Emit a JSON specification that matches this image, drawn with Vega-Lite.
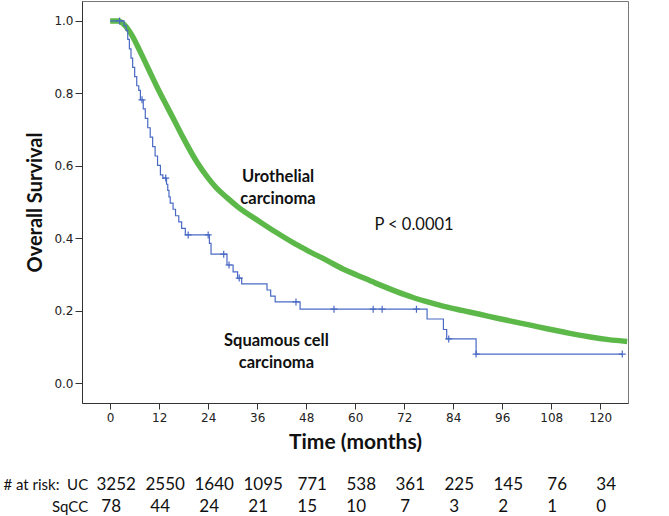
{
  "$schema": "https://vega.github.io/schema/vega-lite/v6.json",
  "width": 546,
  "height": 402,
  "autosize": {"type": "none"},
  "padding": {"left": 82, "top": 1, "right": 41, "bottom": 113},
  "background": "white",
  "config": {
    "view": {"stroke": "#777", "strokeWidth": 1},
    "font": "Lato",
    "axis": {"grid": false}
  },
  "datasets": {
    "uc": [
      {"month": 0, "survival": 1.0}, {"month": 2, "survival": 1.0}, {"month": 3.4, "survival": 0.99},
      {"month": 4.5, "survival": 0.975}, {"month": 5.6, "survival": 0.955}, {"month": 6.8, "survival": 0.928},
      {"month": 8, "survival": 0.9}, {"month": 9.8, "survival": 0.857}, {"month": 11.5, "survival": 0.817},
      {"month": 14, "survival": 0.762}, {"month": 16.4, "survival": 0.71}, {"month": 17.9, "survival": 0.677},
      {"month": 21.3, "survival": 0.609}, {"month": 24, "survival": 0.566}, {"month": 26, "survival": 0.539},
      {"month": 28.6, "survival": 0.512}, {"month": 31.1, "survival": 0.488}, {"month": 36.7, "survival": 0.445},
      {"month": 40.8, "survival": 0.415}, {"month": 44.9, "survival": 0.387}, {"month": 48, "survival": 0.368},
      {"month": 53.5, "survival": 0.336}, {"month": 57, "survival": 0.315}, {"month": 60.5, "survival": 0.298},
      {"month": 65, "survival": 0.276}, {"month": 70.3, "survival": 0.252}, {"month": 74, "survival": 0.237},
      {"month": 78.4, "survival": 0.222}, {"month": 82, "survival": 0.211}, {"month": 86.4, "survival": 0.2},
      {"month": 90.5, "survival": 0.19}, {"month": 94.8, "survival": 0.179}, {"month": 99, "survival": 0.169},
      {"month": 102.9, "survival": 0.16}, {"month": 107, "survival": 0.15}, {"month": 111, "survival": 0.141},
      {"month": 114.5, "survival": 0.133}, {"month": 117.6, "survival": 0.127}, {"month": 122, "survival": 0.12},
      {"month": 126.6, "survival": 0.115}
    ],
    "sqcc": [
      {"month": 0, "survival": 1.0}, {"month": 3.4, "survival": 0.987}, {"month": 3.9, "survival": 0.974},
      {"month": 4.3, "survival": 0.949}, {"month": 4.7, "survival": 0.923}, {"month": 5.1, "survival": 0.897},
      {"month": 5.5, "survival": 0.872}, {"month": 6.0, "survival": 0.846}, {"month": 6.5, "survival": 0.821},
      {"month": 7.0, "survival": 0.808}, {"month": 7.4, "survival": 0.782}, {"month": 8.1, "survival": 0.757},
      {"month": 8.6, "survival": 0.731}, {"month": 9.2, "survival": 0.705}, {"month": 9.8, "survival": 0.679},
      {"month": 10.4, "survival": 0.653}, {"month": 11.0, "survival": 0.627}, {"month": 11.6, "survival": 0.601},
      {"month": 12.3, "survival": 0.575}, {"month": 12.9, "survival": 0.566}, {"month": 13.8, "survival": 0.549},
      {"month": 14.1, "survival": 0.532}, {"month": 14.4, "survival": 0.514}, {"month": 14.7, "survival": 0.497},
      {"month": 15.4, "survival": 0.48}, {"month": 16.0, "survival": 0.462}, {"month": 16.8, "survival": 0.445},
      {"month": 17.5, "survival": 0.427}, {"month": 18.4, "survival": 0.409}, {"month": 24.3, "survival": 0.386},
      {"month": 24.7, "survival": 0.356}, {"month": 28.6, "survival": 0.326}, {"month": 30.1, "survival": 0.307},
      {"month": 31.2, "survival": 0.29}, {"month": 32.2, "survival": 0.274}, {"month": 38.4, "survival": 0.257},
      {"month": 39.3, "survival": 0.24}, {"month": 40.4, "survival": 0.224}, {"month": 46.5, "survival": 0.204},
      {"month": 77.6, "survival": 0.177}, {"month": 81.6, "survival": 0.148}, {"month": 82.4, "survival": 0.122},
      {"month": 89.6, "survival": 0.08}, {"month": 125.4, "survival": 0.08}
    ],
    "sqccCensored": [
      {"month": 2.3, "survival": 1.0}, {"month": 7.8, "survival": 0.782}, {"month": 13.6, "survival": 0.566},
      {"month": 19.1, "survival": 0.409}, {"month": 24.0, "survival": 0.409}, {"month": 27.8, "survival": 0.356},
      {"month": 29.1, "survival": 0.326}, {"month": 31.6, "survival": 0.29}, {"month": 45.5, "survival": 0.224},
      {"month": 54.8, "survival": 0.204}, {"month": 64.4, "survival": 0.204}, {"month": 66.6, "survival": 0.204},
      {"month": 75.0, "survival": 0.204}, {"month": 82.9, "survival": 0.122}, {"month": 89.6, "survival": 0.08},
      {"month": 125.4, "survival": 0.08}
    ],
    "risk": [
      {"month": 0, "group": "UC", "n": 3252}, {"month": 12, "group": "UC", "n": 2550}, {"month": 24, "group": "UC", "n": 1640},
      {"month": 36, "group": "UC", "n": 1095}, {"month": 48, "group": "UC", "n": 771}, {"month": 60, "group": "UC", "n": 538},
      {"month": 72, "group": "UC", "n": 361}, {"month": 84, "group": "UC", "n": 225}, {"month": 96, "group": "UC", "n": 145},
      {"month": 108, "group": "UC", "n": 76}, {"month": 120, "group": "UC", "n": 34},
      {"month": 0, "group": "SqCC", "n": 78}, {"month": 12, "group": "SqCC", "n": 44}, {"month": 24, "group": "SqCC", "n": 24},
      {"month": 36, "group": "SqCC", "n": 21}, {"month": 48, "group": "SqCC", "n": 15}, {"month": 60, "group": "SqCC", "n": 10},
      {"month": 72, "group": "SqCC", "n": 7}, {"month": 84, "group": "SqCC", "n": 3}, {"month": 96, "group": "SqCC", "n": 2},
      {"month": 108, "group": "SqCC", "n": 1}, {"month": 120, "group": "SqCC", "n": 0}
    ],
    "riskHeaders": [
      {"group": "UC", "header": "# at risk:\u00a0 UC"},
      {"group": "SqCC", "header": "SqCC"}
    ],
    "labels": [
      {"month": 41.1, "survival": 0.569, "label": "Urothelial\ncarcinoma"},
      {"month": 40.7, "survival": 0.117, "label": "Squamous cell\ncarcinoma"}
    ],
    "pvalue": [
      {"month": 74.4, "survival": 0.436, "label": "P < 0.0001"}
    ]
  },
  "layer": [
    {
      "layer": [
        {
          "data": {"name": "uc"},
          "mark": {"type": "line", "color": "#5cb848", "strokeWidth": 5.5, "interpolate": "monotone", "clip": true},
          "encoding": {
            "x": {
              "field": "month", "type": "quantitative", "title": "Time (months)",
              "scale": {"domain": [-6.9, 126.8], "nice": false, "zero": false},
              "axis": {
                "values": [0, 12, 24, 36, 48, 60, 72, 84, 96, 108, 120],
                "tickSize": 6, "tickColor": "#333", "domainColor": "#333",
                "labelFont": "DejaVu Sans", "labelFontSize": 12, "labelColor": "#222", "labelPadding": 3,
                "labelFlush": false,
                "titleFont": "Lato", "titleFontSize": 21, "titleFontWeight": "bold", "titleColor": "#111", "titlePadding": 8
              }
            },
            "y": {
              "field": "survival", "type": "quantitative", "title": "Overall Survival",
              "scale": {"domain": [-0.055, 1.055], "nice": false, "zero": false},
              "axis": {
                "values": [0, 0.2, 0.4, 0.6, 0.8, 1.0], "format": ".1f",
                "tickSize": 7, "tickColor": "#333", "domainColor": "#333",
                "labelFont": "DejaVu Sans", "labelFontSize": 12, "labelColor": "#222", "labelPadding": 2,
                "titleFont": "Lato", "titleFontSize": 20, "titleFontWeight": "bold", "titleColor": "#111", "titlePadding": 8
              }
            }
          }
        },
        {
          "data": {"name": "sqcc"},
          "mark": {"type": "line", "color": "#4a6ac4", "strokeWidth": 1.2, "interpolate": "step-after"},
          "encoding": {
            "x": {"field": "month", "type": "quantitative", "title": "Time (months)"},
            "y": {"field": "survival", "type": "quantitative", "title": "Overall Survival"}
          }
        },
        {
          "data": {"name": "sqccCensored"},
          "mark": {"type": "point", "shape": "M-1,0H1M0,-1V1", "filled": false, "color": "#4a6ac4", "strokeWidth": 1.2, "size": 49, "opacity": 1},
          "encoding": {
            "x": {"field": "month", "type": "quantitative", "title": "Time (months)"},
            "y": {"field": "survival", "type": "quantitative", "title": "Overall Survival"}
          }
        },
        {
          "data": {"name": "labels"},
          "mark": {"type": "text", "font": "Lato", "fontSize": 16.5, "fontWeight": "bold", "color": "#111", "align": "center", "baseline": "middle", "lineBreak": "\n", "lineHeight": 22},
          "encoding": {
            "x": {"field": "month", "type": "quantitative", "title": "Time (months)"},
            "y": {"field": "survival", "type": "quantitative", "title": "Overall Survival"},
            "text": {"field": "label"}
          }
        },
        {
          "data": {"name": "pvalue"},
          "mark": {"type": "text", "font": "Lato", "fontSize": 16.5, "color": "#111", "align": "center", "baseline": "middle"},
          "encoding": {
            "x": {"field": "month", "type": "quantitative", "title": "Time (months)"},
            "y": {"field": "survival", "type": "quantitative", "title": "Overall Survival"},
            "text": {"field": "label"}
          }
        }
      ]
    },
    {
      "data": {"name": "risk"},
      "transform": [{"filter": "datum.group === 'UC'"}],
      "mark": {"type": "text", "font": "Lato", "fontSize": 17, "color": "#111", "align": "center", "baseline": "middle", "dx": 6},
      "encoding": {
        "x": {"field": "month", "type": "quantitative", "title": "Time (months)"},
        "y": {"field": "group", "type": "nominal", "scale": {"domain": ["UC", "SqCC"], "range": [484, 506], "padding": 0}, "axis": null},
        "text": {"field": "n"}
      }
    },
    {
      "data": {"name": "risk"},
      "transform": [{"filter": "datum.group === 'SqCC'"}],
      "mark": {"type": "text", "font": "Lato", "fontSize": 17, "color": "#111", "align": "center", "baseline": "middle", "dx": 1},
      "encoding": {
        "x": {"field": "month", "type": "quantitative", "title": "Time (months)"},
        "y": {"field": "group", "type": "nominal", "scale": {"domain": ["UC", "SqCC"], "range": [484, 506], "padding": 0}, "axis": null},
        "text": {"field": "n"}
      }
    },
    {
      "data": {"name": "riskHeaders"},
      "mark": {"type": "text", "font": "Lato", "fontSize": 15, "color": "#111", "align": "right", "baseline": "middle", "dx": -22},
      "encoding": {
        "x": {"datum": 0, "type": "quantitative"},
        "y": {"field": "group", "type": "nominal", "scale": {"domain": ["UC", "SqCC"], "range": [484, 506], "padding": 0}, "axis": null},
        "text": {"field": "header"}
      }
    }
  ],
  "resolve": {"scale": {"y": "independent"}}
}
